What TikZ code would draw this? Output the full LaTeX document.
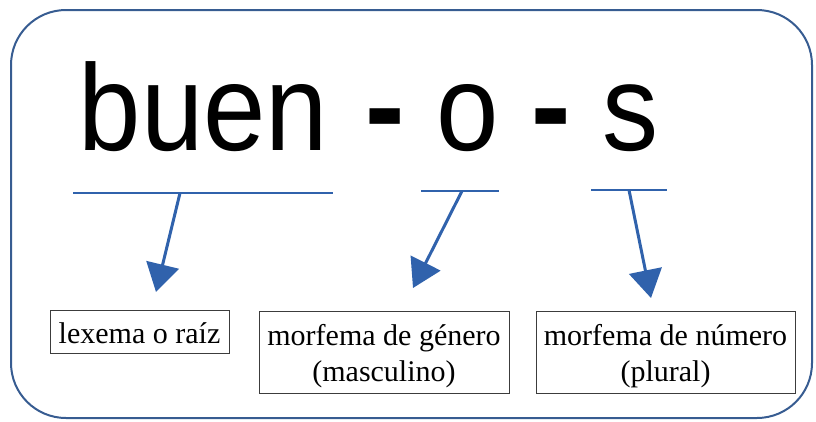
\documentclass[tikz,border=0pt]{standalone}
\usepackage{fontspec}
\setmainfont{Liberation Serif}
\newfontfamily\arialfont{Liberation Sans}
\usetikzlibrary{arrows.meta}
\definecolor{framecol}{RGB}{55,92,145}
\definecolor{arrowcol}{RGB}{48,98,172}
\definecolor{boxcol}{RGB}{60,60,60}
\newcommand{\bigdash}{\raisebox{-19pt}{\scalebox{1.05}[1.69]{-}}}
\newcommand{\boxtext}[2]{\raisebox{#1}[\height][\depth]{\begin{tabular}{@{}c@{}}#2\end{tabular}}}
\tikzset{
  bigtext/.style={anchor=base, inner sep=0pt, font=\arialfont\fontsize{118}{118}\selectfont},
  uline/.style={draw=arrowcol, line width=2.8pt},
  morph/.style={-{Triangle[length=28pt,width=33pt]}, draw=arrowcol, fill=arrowcol, line width=3pt},
  labelbox/.style={draw=boxcol, line width=0.9pt, inner sep=0pt,
    font=\fontsize{30}{36}\selectfont},
}
\begin{document}
\begin{tikzpicture}[x=1pt,y=-1pt]
\useasboundingbox (0,0) rectangle (816,421);
\draw[framecol, line width=2pt, rounded corners=55pt] (11,10) rectangle (812,418);

\node[bigtext] (w1) at (203.5,150) {\scalebox{0.95}[1.04]{buen}};
\node[bigtext] (d1) at (385.5,150) {\bigdash};
\node[bigtext] (w2) at (467.5,150) {\scalebox{0.95}[1.04]{o}};
\node[bigtext] (d2) at (551.5,150) {\bigdash};
\node[bigtext] (w3) at (630.5,150) {\scalebox{0.95}[1.04]{s}};

\coordinate (u1a) at (73,193);  \coordinate (u1b) at (333,193);
\coordinate (u2a) at (421,191); \coordinate (u2b) at (499,191);
\coordinate (u3a) at (591,190); \coordinate (u3b) at (667,190);
\draw[uline] (u1a) -- (u1b);
\draw[uline] (u2a) -- (u2b);
\draw[uline] (u3a) -- (u3b);

\coordinate (s1) at (180,193); \coordinate (t1) at (156,292);
\coordinate (s2) at (462,191); \coordinate (t2) at (413,288);
\coordinate (s3) at (629,190); \coordinate (t3) at (651,298);
\draw[morph] (s1) -- (t1);
\draw[morph] (s2) -- (t2);
\draw[morph] (s3) -- (t3);

\node[labelbox, minimum width=179pt, minimum height=43pt] (b1) at (139.5,331.5) {\boxtext{-4.3pt}{lexema o raíz}};
\node[labelbox, minimum width=250pt, minimum height=82pt] (b2) at (384,352) {\boxtext{-3.8pt}{morfema de género\\(masculino)}};
\node[labelbox, minimum width=259pt, minimum height=82pt] (b3) at (665.5,352) {\boxtext{-3.8pt}{morfema de número\\(plural)}};
\end{tikzpicture}
\end{document}
